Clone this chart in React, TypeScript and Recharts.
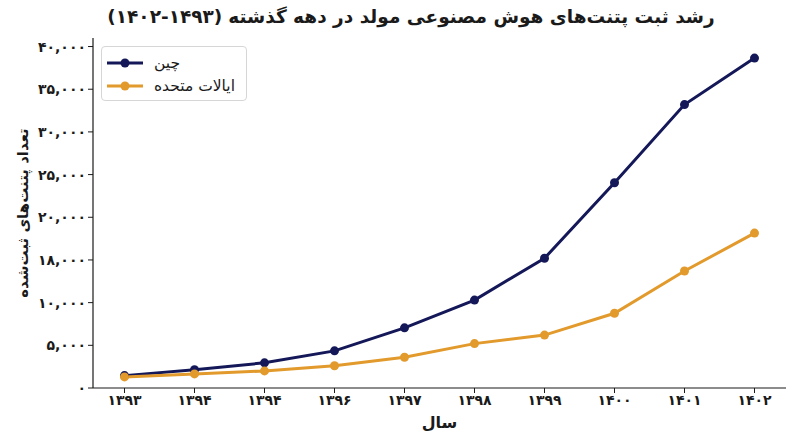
import { LineChart, Line, XAxis, YAxis, Legend } from "recharts";

const YEARS = ["۱۳۹۳", "۱۳۹۴", "۱۳۹۴", "۱۳۹۶", "۱۳۹۷", "۱۳۹۸", "۱۳۹۹", "۱۴۰۰", "۱۴۰۱", "۱۴۰۲"];
const CHINA = [1450, 2150, 2950, 4350, 7050, 10300, 15200, 24050, 33200, 38650];
const USA = [1300, 1650, 2000, 2600, 3600, 5200, 6200, 8750, 13700, 18150];
const Y_TICKS = [0, 5000, 10000, 15000, 20000, 25000, 30000, 35000, 40000];
const Y_TICK_LABELS = ["۰", "۵,۰۰۰", "۱۰,۰۰۰", "۱۸,۰۰۰", "۲۰,۰۰۰", "۲۵,۰۰۰", "۳۰,۰۰۰", "۳۵,۰۰۰", "۴۰,۰۰۰"];
const SERIES = [
  { key: "china", name: "چین", color: "#141858" },
  { key: "usa", name: "ایالات متحده", color: "#e29a2c" },
];
const TITLE = "رشد ثبت پتنت‌های هوش مصنوعی مولد در دهه گذشته";
const TITLE_RANGE = "(۱۴۰۲-۱۴۹۳)";

const FONT = "'DejaVu Sans', 'Noto Sans', sans-serif";
const INK = "#1a1a1a";

const data = YEARS.map((_, i) => ({ idx: i, china: CHINA[i], usa: USA[i] }));

const renderLegend = () => (
  <div
    style={{
      boxSizing: "border-box",
      border: "1px solid #d6d6d6",
      borderRadius: 4,
      background: "#fff",
      padding: "4px 4px 4px 5px",
      width: 146,
      height: 55,
      fontFamily: FONT,
      fontSize: 15.5,
      color: INK,
      whiteSpace: "nowrap",
    }}
  >
    {SERIES.map((s) => (
      <div key={s.key} style={{ display: "flex", alignItems: "center", height: 23 }}>
        <svg width={36} height={12} style={{ marginRight: 11, flex: "none" }}>
          <line x1={0} y1={6} x2={36} y2={6} stroke={s.color} strokeWidth={3} />
          <circle cx={18} cy={6} r={4.5} fill={s.color} />
        </svg>
        <span dir="rtl">{s.name}</span>
      </div>
    ))}
  </div>
);

const XTitle = ({ viewBox }: any) => (
  <text
    x={viewBox.x + viewBox.width / 2}
    y={428}
    textAnchor="middle"
    fontFamily={FONT}
    fontSize={16}
    fontWeight="bold"
    fill={INK}
  >
    سال
  </text>
);

const YTitle = ({ viewBox }: any) => {
  const cy = viewBox.y + viewBox.height / 2;
  return (
    <text
      x={28}
      y={cy}
      transform={`rotate(-90 28 ${cy})`}
      textAnchor="middle"
      fontFamily={FONT}
      fontSize={15}
      fontWeight="bold"
      fill={INK}
      direction="rtl"
    >
      تعداد پتنت‌های ثبت‌شده
    </text>
  );
};

export default function App() {
  return (
    <div style={{ position: "absolute", left: 0, top: 0, width: 800, height: 447, background: "#fff" }}>
      <div
        dir="ltr"
        style={{
          position: "absolute",
          top: 6,
          left: 0,
          width: 822,
          display: "flex",
          justifyContent: "center",
          gap: 6,
          fontFamily: FONT,
          fontWeight: "bold",
          fontSize: 18.5,
          color: INK,
        }}
      >
        <span dir="ltr" style={{ unicodeBidi: "isolate" }}>{TITLE_RANGE}</span>
        <span dir="rtl" style={{ unicodeBidi: "isolate" }}>{TITLE}</span>
      </div>
      <LineChart width={800} height={447} data={data} margin={{ top: 38, right: 14, bottom: 0, left: 0 }}>
        <XAxis
          dataKey="idx"
          type="number"
          domain={[-0.45, 9.45]}
          ticks={YEARS.map((_, i) => i)}
          tickFormatter={(v: number) => YEARS[v]}
          height={59}
          tickSize={5}
          tickLine={{ stroke: INK }}
          axisLine={{ stroke: INK, strokeWidth: 1.2 }}
          tick={{ fontFamily: FONT, fontSize: 14, fontWeight: "bold", fill: INK }}
          label={<XTitle />}
          allowDataOverflow
        />
        <YAxis
          type="number"
          domain={[0, 41000]}
          ticks={Y_TICKS}
          tickFormatter={(v: number) => Y_TICK_LABELS[Y_TICKS.indexOf(v)]}
          width={93}
          tickSize={5}
          tickLine={{ stroke: INK }}
          axisLine={{ stroke: INK, strokeWidth: 1.2 }}
          tick={{ fontFamily: FONT, fontSize: 14, fontWeight: "bold", fill: INK }}
          label={<YTitle />}
          allowDataOverflow
        />
        <Legend
          layout="horizontal"
          verticalAlign="middle"
          align="center"
          content={renderLegend}
          wrapperStyle={{ position: "absolute", left: 101, top: 46, width: 146 }}
        />
        {SERIES.map((s) => (
          <Line
            key={s.key}
            dataKey={s.key}
            name={s.name}
            stroke={s.color}
            strokeWidth={3}
            dot={{ r: 4.5, fill: s.color, stroke: s.color, strokeWidth: 0 }}
            isAnimationActive={false}
          />
        ))}
      </LineChart>
    </div>
  );
}
